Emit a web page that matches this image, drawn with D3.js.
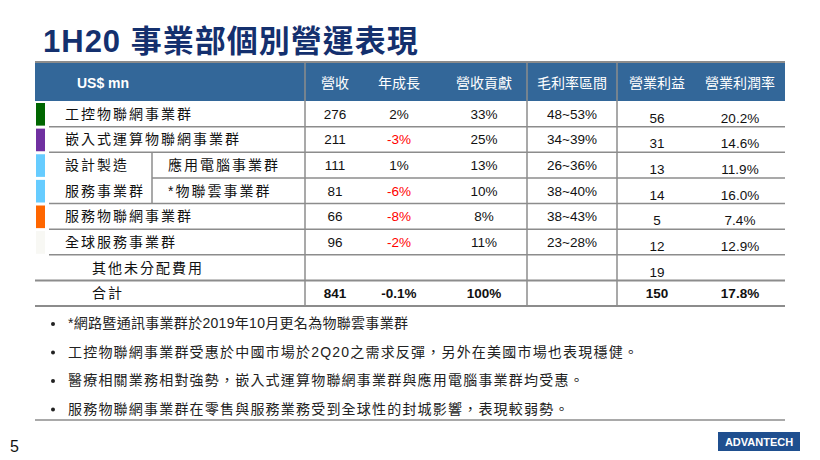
<!DOCTYPE html>
<html><head><meta charset="utf-8">
<script src="https://cdn.jsdelivr.net/npm/d3@7"></script>
<style>body{margin:0;background:#fff}svg{display:block;font-family:"Liberation Sans","Noto Sans CJK TC",sans-serif}</style>
</head><body><div id="chart"></div>
<script>
// Data
const headers = ["營收", "年成長", "營收貢獻", "毛利率區間", "營業利益", "營業利潤率"];
const groups = ["工控物聯網事業群", "嵌入式運算物聯網事業群", "應用電腦事業群", "*物聯雲事業群", "服務物聯網事業群", "全球服務事業群", "其他未分配費用", "合計"];
const revenue = ["276", "211", "111", "81", "66", "96", "", "841"];
const growth = ["2%", "-3%", "1%", "-6%", "-8%", "-2%", "", "-0.1%"];
const share = ["33%", "25%", "13%", "10%", "8%", "11%", "", "100%"];
const gmRange = ["48~53%", "34~39%", "26~36%", "38~40%", "38~43%", "23~28%", "", ""];
const opProfit = ["56", "31", "13", "14", "5", "12", "19", "150"];
const opMargin = ["20.2%", "14.6%", "11.9%", "16.0%", "7.4%", "12.9%", "", "17.8%"];
const barColors = ["#006600", "#7030a0", "#66ccff", "#66ccff", "#ff6600", "#f8f8f4", null, null];
const notes = [
  "*網路暨通訊事業群於2019年10月更名為物聯雲事業群",
  "工控物聯網事業群受惠於中國市場於2Q20之需求反彈，另外在美國市場也表現穩健。",
  "醫療相關業務相對強勢，嵌入式運算物聯網事業群與應用電腦事業群均受惠。",
  "服務物聯網事業群在零售與服務業務受到全球性的封城影響，表現較弱勢。"
];

const W = 820, H = 460;
const svg = d3.select("#chart").append("svg").attr("width", W).attr("height", H);

// title
svg.append("text").attr("x", 43).attr("y", 52).attr("fill", "#14306e")
  .style("font-size", "31px").style("font-weight", "bold").style("letter-spacing", "1px").text("1H20 事業部個別營運表現");

const tLeft = 35, tRight = 785, tTop = 62, headH = 39;
const y = d3.scaleBand().domain(d3.range(groups.length)).range([tTop + headH, 306]);
const colX = d3.scaleOrdinal(headers, [335, 399, 484, 572, 657, 740]);

// header
svg.append("rect").attr("x", tLeft).attr("y", tTop).attr("width", tRight - tLeft).attr("height", headH).attr("fill", "#336799");
svg.append("text").attr("x", 77).attr("y", tTop + 26).attr("fill", "#fff")
  .style("font-size", "14px").style("font-weight", "bold").text("US$ mn");
headers.forEach(h => {
  svg.append("text").attr("x", colX(h)).attr("y", tTop + 26).attr("text-anchor", "middle")
    .attr("fill", "#fff").style("font-size", "14px").text(h);
});

const line = (x1, y1, x2, y2, w) => svg.append("line").attr("x1", x1).attr("y1", y1).attr("x2", x2).attr("y2", y2)
  .attr("stroke", "#8c8c8c").attr("stroke-width", w || 1.5);

// row lines
groups.forEach((g, i) => {
  const yb = y(i) + y.bandwidth();
  if (i === 2) line(152, yb, tRight, yb);
  else if (i === 6 || i === 7) line(tLeft, yb, tRight, yb, 2);
  else line(49, yb, tRight, yb);
});
line(tLeft, tTop, tRight, tTop, 2);
[305, 527, 617].forEach(x => line(x, tTop, x, 306));
line(152, y(2), 152, y(3) + y.bandwidth());

// color bars
barColors.forEach((c, i) => {
  if (!c) return;
  svg.append("rect").attr("x", 36).attr("y", y(i) + 2).attr("width", 9).attr("height", y.bandwidth() - 3).attr("fill", c);
});

const fs = "13.5px";
const label = (x, yy, t) => svg.append("text").attr("x", x).attr("y", yy).attr("fill", "#111")
  .style("font-size", "14px").style("letter-spacing", "2px").text(t);
groups.forEach((g, i) => {
  const yc = y(i) + y.bandwidth() / 2 + 5;
  const bold = i === 7;
  let lx = 65;
  if (i === 2 || i === 3) lx = 168;
  if (i >= 6) lx = 92;
  label(lx, yc, g);
  const vals = [revenue[i], growth[i], share[i], gmRange[i], opProfit[i], opMargin[i]];
  vals.forEach((v, j) => {
    if (!v) return;
    const red = j === 1 && v.startsWith("-") && i !== 7;
    svg.append("text").attr("x", colX(headers[j])).attr("y", yc + (j >= 4 && i < 7 ? 4 : 0)).attr("text-anchor", "middle")
      .attr("fill", red ? "#ff0000" : "#111").style("font-size", fs)
      .style("font-weight", bold ? "bold" : "normal").text(v);
  });
});
label(65, y(2) + y.bandwidth() / 2 + 5, "設計製造");
label(65, y(3) + y.bandwidth() / 2 + 5, "服務事業群");

// notes
notes.forEach((n, i) => {
  const ny = 328 + i * 28.5;
  svg.append("circle").attr("cx", 53).attr("cy", ny - 4).attr("r", 2).attr("fill", "#222");
  svg.append("text").attr("x", 68).attr("y", ny).attr("fill", "#222").style("font-size", "14px")
    .style("letter-spacing", i === 0 ? "0.3px" : "1.2px").text(n);
});
line(tLeft, 420, tRight, 420, 1.5);

svg.append("text").attr("x", 10).attr("y", 452).style("font-size", "16px").attr("fill", "#111").text("5");
svg.append("rect").attr("x", 718).attr("y", 432).attr("width", 82).attr("height", 19).attr("fill", "#1f4f8f");
svg.append("text").attr("x", 759).attr("y", 446).attr("text-anchor", "middle").attr("fill", "#fff")
  .style("font-size", "11px").style("font-weight", "bold").text("ADVANTECH");
</script></body></html>
